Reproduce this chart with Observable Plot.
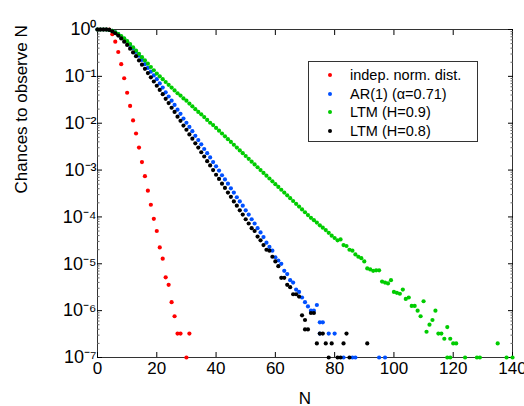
<!DOCTYPE html>
<html>
<head>
<meta charset="utf-8">
<script src="https://cdn.jsdelivr.net/npm/d3@7"></script>
<script src="https://cdn.jsdelivr.net/npm/@observablehq/plot@0.6"></script>
<style>
  body { margin: 0; background: #fff; font-family: "Liberation Sans", Arial, sans-serif; }
  #chart { position: relative; width: 524px; height: 406px; }
  #legend { position: absolute; left: 308px; top: 61px; width: 170px; height: 81px;
    border: 1.5px solid #333; background: #fff; font-size: 14.5px; box-sizing: border-box; padding: 4px 0 0 10px; }
  #legend div { height: 18.5px; line-height: 18.5px; white-space: nowrap; }
  #legend span { display: inline-block; width: 4px; height: 4px; border-radius: 2px; margin: 0 18px 3px 9px; }
</style>
</head>
<body>
<div id="chart"></div>
<script>
// log10 of probability, index = N
const indep = [0,0,0,0,0,-0.1,-0.26,-0.48,-0.74,-1.04,-1.35,-1.63,-1.94,-2.22,-2.52,-2.83,-3.13,-3.44,-3.74,-4.04,-4.3,-4.65,-4.89,-5.29,-5.45,-5.82,-6.12,-6.49,-6.49]
const indepTailN = [30, 31]
const indepTailL = [-7, -6.49]

const ar1 = [0,0,0,0,-0.01,-0.03,-0.06,-0.1,-0.15,-0.2,-0.26,-0.33,-0.4,-0.48,-0.56,-0.65,-0.74,-0.82,-0.9,-0.98,-1.06,
  -1.15,-1.24,-1.34,-1.43,-1.52,-1.61,-1.71,-1.8,-1.9,-1.99,-2.08,-2.17,-2.27,-2.36,-2.45,-2.55,-2.64,-2.73,-2.83,-2.92,
  -3.01,-3.11,-3.2,-3.29,-3.39,-3.48,-3.58,-3.67,-3.76,-3.86,-3.95,-4.05,-4.14,-4.24,-4.33,-4.43,-4.55,-4.64,-4.72,-4.86,
  -4.93,-5.0,-5.15,-5.22,-5.35,-5.4,-5.55,-5.6,-5.72,-5.82]
const ar1TailN = [71,72,73,74,75,76,75,78,80,83,86,87,95,97]
const ar1TailL = [-5.91,-6.0,-6.0,-5.88,-6.25,-6.25,-6.49,-6.49,-6.49,-7,-7,-7,-7,-7]

const ltm9 = [0,0,0,0,-0.01,-0.03,-0.06,-0.1,-0.14,-0.19,-0.25,-0.31,-0.38,-0.45,-0.52,-0.59,-0.66,-0.73,-0.8,-0.87,-0.94,
  -1.0,-1.06,-1.12,-1.18,-1.24,-1.3,-1.36,-1.41,-1.47,-1.52,-1.58,-1.64,-1.7,-1.76,-1.81,-1.87,-1.93,-1.99,-2.04,-2.1,
  -2.16,-2.22,-2.28,-2.34,-2.4,-2.46,-2.52,-2.58,-2.64,-2.7,-2.76,-2.82,-2.88,-2.94,-3.0,-3.06,-3.12,-3.18,-3.24,-3.3,
  -3.36,-3.42,-3.48,-3.54,-3.6,-3.66,-3.72,-3.78,-3.84,-3.9,-3.96,-4.02,-4.07,-4.12,-4.18,-4.23,-4.28,-4.34,-4.4,-4.45,
  -4.5,-4.48,-4.6,-4.62,-4.7,-4.72,-4.8,-4.85,-4.88,-4.95,-5.1,-5.12,-5.15,-5.14,-5.14,-5.38,-5.4,-5.42,-5.35,-5.6,
  -5.62,-5.64,-5.55,-5.75,-5.72,-5.9,-5.9,-6.0,-6.12,-5.8,-6.45,-6.3,-6.2,-6.0,-6.49,-6.49,-6.6,-6.35,-6.6,-6.7,-6.7]
const ltm9TailN = [118,119,124,128,129,135,138,140]
const ltm9TailL = [-7,-7,-7,-7,-7,-6.7,-7,-7]

const ltm8 = [0,0,0,0,-0.01,-0.04,-0.08,-0.13,-0.19,-0.26,-0.33,-0.41,-0.49,-0.57,-0.66,-0.75,-0.84,-0.93,-1.02,-1.11,-1.2,
  -1.29,-1.38,-1.48,-1.57,-1.67,-1.76,-1.86,-1.95,-2.05,-2.14,-2.24,-2.33,-2.43,-2.52,-2.62,-2.71,-2.81,-2.9,-3.0,-3.1,
  -3.19,-3.29,-3.38,-3.48,-3.57,-3.67,-3.76,-3.86,-3.95,-4.05,-4.14,-4.24,-4.3,-4.42,-4.5,-4.6,-4.7,-4.72,-4.85,-4.95,
  -5.05,-5.3,-5.3,-5.45,-5.5,-5.65,-5.65,-5.7,-6.1,-6.2]
const ltm8TailN = [70,71,72,73,74,75,76,77,78,79,81,82,83,84,85,91]
const ltm8TailL = [-6.4,-6.4,-6.05,-6.05,-6.7,-6.49,-6.49,-6.7,-7,-6.7,-7,-7,-6.7,-6.49,-7,-6.7]

const series = [
  {name: "indep. norm. dist.", color: "#ff0000", main: indep, tn: indepTailN, tl: indepTailL},
  {name: "AR(1) (α=0.71)", color: "#0050ff", main: ar1, tn: ar1TailN, tl: ar1TailL},
  {name: "LTM (H=0.9)", color: "#00cc00", main: ltm9, tn: ltm9TailN, tl: ltm9TailL},
  {name: "LTM (H=0.8)", color: "#000000", main: ltm8, tn: ltm8TailN, tl: ltm8TailL}
]
const yTicks = [0,-1,-2,-3,-4,-5,-6,-7]
const xTicks = [0,20,40,60,80,100,120,140]

const points = []
for (const s of series) {
  s.main.forEach((l, n) => points.push({n, p: 10 ** l, s: s.name, c: s.color}))
  s.tn.forEach((n, i) => points.push({n, p: 10 ** s.tl[i], s: s.name, c: s.color}))
}

const sup = k => String(k).split("").map(ch => ({"-": "⁻", "0": "⁰", "1": "¹", "2": "²", "3": "³", "4": "⁴", "5": "⁵", "6": "⁶", "7": "⁷"})[ch]).join("")
const minor = []
for (let k = -7; k < 0; k++) for (let m = 2; m <= 9; m++) minor.push(m * 10 ** k)
const blank = () => ""

const chart = Plot.plot({
  width: 524, height: 406,
  marginLeft: 97, marginRight: 12, marginTop: 29, marginBottom: 49,
  style: {fontFamily: "Liberation Sans, Arial, sans-serif", fontSize: "17px"},
  x: {domain: [0, 140], label: null},
  y: {type: "log", domain: [1e-7, 1], label: null},
  marks: [
    Plot.frame({stroke: "#333"}),
    Plot.axisX({ticks: xTicks, tickSize: -5, tickFormat: d => d, fontSize: 17, tickPadding: 9}),
    Plot.axisX({ticks: xTicks, tickSize: -5, anchor: "top", tickFormat: blank, label: null}),
    Plot.axisY({ticks: yTicks.map(k => 10 ** k), tickSize: -5, tickFormat: d => "10" + sup(Math.round(Math.log10(d))), fontSize: 18, tickPadding: 6}),
    Plot.axisY({ticks: yTicks.map(k => 10 ** k), tickSize: -5, anchor: "right", tickFormat: blank, label: null}),
    Plot.axisY({ticks: minor, tickSize: -2.5, tickFormat: blank, label: null, stroke: "#666"}),
    Plot.axisY({ticks: minor, tickSize: -2.5, anchor: "right", tickFormat: blank, label: null, stroke: "#666"}),
    Plot.dot(points, {x: "n", y: "p", r: 2.1, fill: "c", stroke: null}),
    Plot.text(["N"], {frameAnchor: "bottom", dy: 46, fontSize: 17}),
    Plot.text(["Chances to observe N"], {frameAnchor: "left", dx: -76, rotate: -90, fontSize: 17})
  ]
})
document.getElementById("chart").append(chart)
const lg = document.createElement("div")
lg.id = "legend"
lg.innerHTML = series.map(s => `<div><span style="background:${s.color}"></span>${s.name}</div>`).join("")
document.getElementById("chart").append(lg)
</script>
</body>
</html>
